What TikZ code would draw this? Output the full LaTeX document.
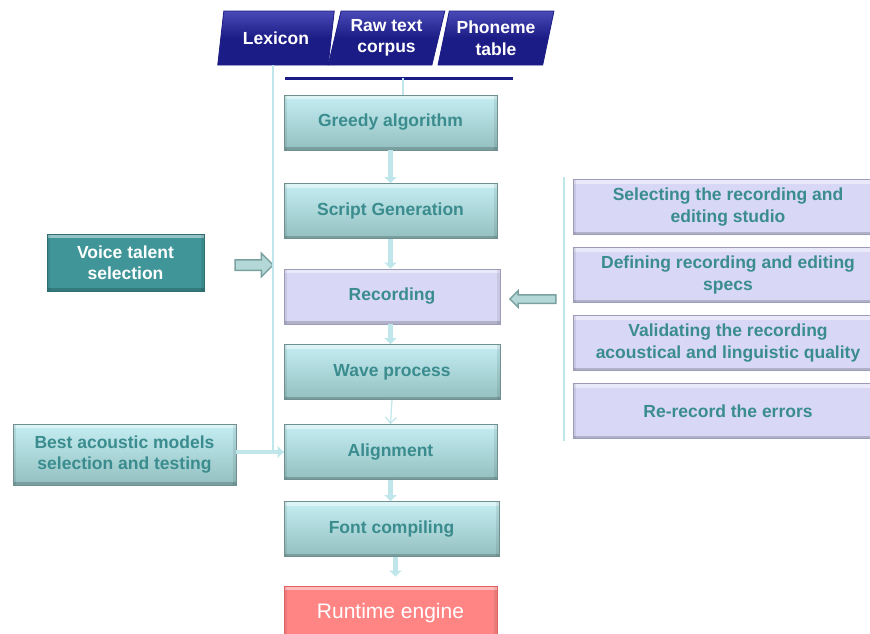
\documentclass[tikz,border=0pt]{standalone}
\usepackage{fontspec}
\setmainfont{Liberation Sans}
\usetikzlibrary{positioning,arrows.meta,shapes.geometric,shapes.arrows,calc}
\definecolor{procTop}{HTML}{C4EEF2}
\definecolor{procBot}{HTML}{94BFC0}
\definecolor{procLine}{HTML}{6E9090}
\definecolor{tealText}{HTML}{3A8C8E}
\definecolor{recFill}{HTML}{D8D8F6}
\definecolor{recLine}{HTML}{9C9CB8}
\definecolor{talentFill}{HTML}{3F9598}
\definecolor{talentLine}{HTML}{2F6E70}
\definecolor{engineFill}{HTML}{FF8585}
\definecolor{engineLine}{HTML}{E06060}
\definecolor{navyTop}{HTML}{4A4AB8}
\definecolor{navyBot}{HTML}{1C1C86}
\definecolor{flowCol}{HTML}{BFE6EA}
\definecolor{arrFill}{HTML}{B4D8D8}
\definecolor{arrLine}{HTML}{7AA0A0}
\tikzset{
bevel/.style={path picture={
  \fill[white,opacity=.45] (path picture bounding box.north west) rectangle ([yshift=-4pt]path picture bounding box.north east);
  \fill[black,opacity=.18] ([yshift=3pt]path picture bounding box.south west) rectangle (path picture bounding box.south east);
  \fill[black,opacity=.08] (path picture bounding box.south west) rectangle ([xshift=3pt]path picture bounding box.north west);
  \fill[black,opacity=.08] (path picture bounding box.south east) rectangle ([xshift=-3pt]path picture bounding box.north east);
}},
box/.style={rectangle, align=center, inner sep=2pt, line width=0.8pt,
  font=\fontsize{17.5}{21.5}\selectfont\bfseries},
procbox/.style={box, bevel, top color=procTop, bottom color=procBot, draw=procLine,
  text=tealText, minimum width=213pt, minimum height=55pt},
recbox/.style={box, bevel, fill=recFill, draw=recLine, text=tealText,
  minimum width=216pt, minimum height=55pt},
talentbox/.style={box, bevel, fill=talentFill, draw=talentLine, text=white,
  minimum width=157pt, minimum height=57pt},
enginebox/.style={box, bevel, fill=engineFill, draw=engineLine, text=white,
  minimum width=213pt, minimum height=55pt, font=\fontsize{21}{25}\selectfont},
taskbox/.style={box, bevel, fill=recFill, draw=recLine, text=tealText,
  minimum width=310pt, minimum height=55pt},
databox/.style={trapezium, trapezium left angle=75, trapezium right angle=105,
  trapezium stretches=true, minimum width=117pt, minimum height=54pt,
  inner sep=1pt, align=center, top color=navyTop, bottom color=navyBot,
  middle color=navyBot, draw=navyBot, line width=0.8pt, text=white,
  font=\fontsize{17.5}{21.5}\selectfont\bfseries},
blockarrow/.style={single arrow, draw=arrLine, fill=arrFill, line width=1.5pt},
flow/.style={draw=flowCol, line width=4.5pt, -{Triangle[width=12pt,length=6pt]}},
feed/.style={draw=flowCol, line width=1.2pt},
bar/.style={draw=navyBot, line width=3pt},
}

\begin{document}
\begin{tikzpicture}[x=1pt,y=-1pt]
\useasboundingbox (0,0) rectangle (870,633);
% inputs
\node[databox] (lex) at (276,38) {Lexicon};
\node[databox] (raw) at (386.5,38) {Raw text\\corpus};
\node[databox] (phon) at (496,38) {Phoneme\\table};
\coordinate (barL) at (285,78);
\coordinate (barR) at (513,78);
\coordinate (barC) at (403,78);
\draw[bar] (barL) -- (barR);

% main column
\node[procbox] (greedy) at (390.5,122.5) {Greedy algorithm};
\node[procbox] (script) at (390.5,211) {Script Generation};
\node[recbox] (rec) at (392,296.5) {Recording};
\node[procbox, minimum width=216pt] (wave) at (392,372) {Wave process};
\node[procbox] (align) at (390.5,452) {Alignment};
\node[procbox, minimum width=215pt] (font) at (391.5,529) {Font compiling};
\node[enginebox] (engine) at (390.5,613.5) {Runtime engine};

% left side
\node[talentbox] (talent) at (125.5,262.5) {Voice talent\\selection};
\node[procbox, minimum width=223pt, minimum height=61pt] (models) at (124.5,454.5) {Best acoustic models\\selection and testing};

% recording tasks
\node[taskbox] (studio) at (728,207) {Selecting the recording and\\editing studio};
\node[taskbox] (specs) at (728,275) {Defining recording and editing\\specs};
\node[taskbox] (valid) at (728,343) {Validating the recording\\acoustical and linguistic quality};
\node[taskbox] (rerec) at (728,411) {Re-record the errors};

\node[blockarrow, inner xsep=0pt, inner ysep=4.5pt, minimum height=38pt, single arrow head extend=6.5pt] (talentarr) at (251.5,265) {};
\node[blockarrow, shape border rotate=180, inner xsep=0pt, inner ysep=3.5pt, minimum height=46pt, single arrow head extend=4pt] (taskarr) at (535,299) {};

% connectors
\draw[feed, line width=2pt] (barC) -- (barC |- greedy.north);
\draw[feed] (lex.bottom side) |- (align.west);
\draw[flow] (greedy.south) -- (script.north);
\draw[flow] (script.south) -- (script.south |- rec.north);
\draw[flow] (script.south |- rec.south) -- (script.south |- wave.north);
\draw[feed, -{Straight Barb[length=6pt,width=11pt]}] (wave.south) -- (align.north);
\draw[flow] (align.south) -- (align.south |- font.north);
\draw[flow, shorten >=9pt] ([xshift=4pt]font.south) -- ([xshift=4pt]font.south |- engine.north);
\draw[flow, line width=4pt] (models.east |- align.west) -- (align.west);
\draw[feed, line width=2pt] ([xshift=-9pt,yshift=2pt]studio.north west) -- ([xshift=-9pt,yshift=-2pt]rerec.south west);
\end{tikzpicture}
\end{document}
